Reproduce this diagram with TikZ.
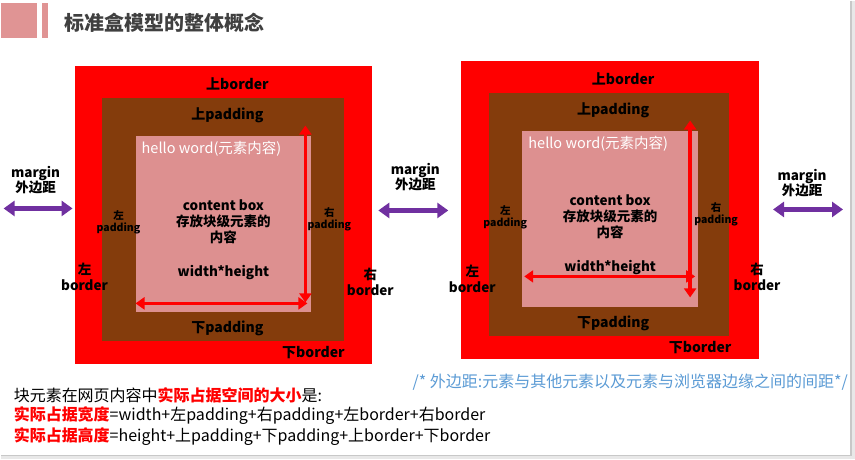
\documentclass[tikz,border=0pt]{standalone}
\usepackage{fontspec}
\setmainfont{Noto Sans CJK SC}
\usetikzlibrary{arrows.meta}
\definecolor{bordred}{HTML}{FF0000}
\definecolor{padbrown}{HTML}{843C0C}
\definecolor{contpink}{HTML}{DD9090}
\definecolor{hdrpink}{HTML}{E09494}
\definecolor{mgpurple}{HTML}{7030A0}
\definecolor{titlegray}{HTML}{404040}
\definecolor{notblue}{HTML}{5B9BD5}
\definecolor{pagegray}{HTML}{E8E8E8}
\definecolor{edgegray}{HTML}{C8C8C8}
\tikzset{
  lbl/.style={font=\bfseries\fontsize{14}{15}\selectfont, text=black, inner sep=0pt, align=center},
  smalllbl/.style={font=\bfseries\fontsize{10.5}{12}\selectfont, text=black, inner sep=0pt, align=center},
  dimarrow/.style={draw=bordred, line width=3.5pt, {Triangle[length=9pt,width=12pt]}-{Triangle[length=9pt,width=12pt]}},
  marginarrow/.style={draw=mgpurple, line width=4.5pt, {Triangle[length=11pt,width=15pt]}-{Triangle[length=11pt,width=15pt]}},
  bodytext/.style={font=\fontsize{16}{20}\selectfont, text=black, inner sep=0pt, anchor=west},
}
\newcommand{\redb}[1]{\textcolor{bordred}{\bfseries #1}}
\begin{document}
\begin{tikzpicture}[x=1pt,y=-1pt]
  % page and slide area
  \fill[pagegray] (0,0) rectangle (855,459);
  \fill[white] (0,0) rectangle (851,455);
  \draw[edgegray, line width=1.2pt] (851,0) -- (851,455) -- (0,455);
  \useasboundingbox (0,0) rectangle (855,459);

  % header bars and title
  \fill[hdrpink] (0,2) rectangle (36,37);
  \fill[hdrpink] (41,2) rectangle (47,37);
  \node[anchor=west, inner sep=0pt, text=titlegray, font=\bfseries\fontsize{20}{22}\selectfont] (title) at (64,22) {标准盒模型的整体概念};

  % ---------- left box ----------
  \fill[bordred] (74,65) rectangle (372,364);
  \fill[padbrown] (101,97) rectangle (344,341);
  \fill[contpink] (135,135) rectangle (311,312);
  \coordinate (Lvt) at (305,125);
  \coordinate (Lvb) at (305,302);
  \coordinate (Lhl) at (135,303);
  \coordinate (Lhr) at (307,303);
  \draw[dimarrow] (Lvt) -- (Lvb);
  \draw[dimarrow] (Lhl) -- (Lhr);
  \node[lbl] (Ltb) at (237,83) {上border};
  \node[lbl] (Ltp) at (227,115) {上padding};
  \node[anchor=west, inner sep=0pt, text=white, font=\fontsize{14.5}{16}\selectfont] (Lhello) at (141,148) {hello word(元素内容)};
  \node[lbl, font=\bfseries\fontsize{13.5}{16}\selectfont] (Lcb) at (223,221) {content box\\存放块级元素的\\内容};
  \node[lbl, font=\bfseries\fontsize{13.5}{16}\selectfont] (Lwh) at (223,272) {width*height};
  \node[smalllbl] (Llp) at (118,222) {左\\padding};
  \node[smalllbl] (Lrp) at (329,219) {右\\padding};
  \node[lbl, font=\bfseries\fontsize{13.5}{16}\selectfont] (Llb) at (84,276) {左\\border};
  \node[lbl, font=\bfseries\fontsize{13.5}{16}\selectfont] (Lrb) at (370,281) {右\\border};
  \node[lbl] (Lbp) at (227,328) {下padding};
  \node[lbl] (Lbb) at (313,352) {下border};

  % ---------- right box ----------
  \fill[bordred] (461,60) rectangle (759,359);
  \fill[padbrown] (489,92) rectangle (729,336);
  \fill[contpink] (522,130) rectangle (698,307);
  \coordinate (Rvt) at (690,120);
  \coordinate (Rvb) at (690,297);
  \coordinate (Rhl) at (524,276);
  \coordinate (Rhr) at (695,276);
  \draw[dimarrow] (Rvt) -- (Rvb);
  \draw[dimarrow] (Rhl) -- (Rhr);
  \node[lbl] (Rtb) at (623,78) {上border};
  \node[lbl] (Rtp) at (613,110) {上padding};
  \node[anchor=west, inner sep=0pt, text=white, font=\fontsize{14.5}{16}\selectfont] (Rhello) at (528,143) {hello word(元素内容)};
  \node[lbl, font=\bfseries\fontsize{13.5}{16}\selectfont] (Rcb) at (610,216) {content box\\存放块级元素的\\内容};
  \node[lbl, font=\bfseries\fontsize{13.5}{16}\selectfont] (Rwh) at (610,267) {width*height};
  \node[smalllbl] (Rlp) at (505,217) {左\\padding};
  \node[smalllbl] (Rrp) at (716,214) {右\\padding};
  \node[lbl, font=\bfseries\fontsize{13.5}{16}\selectfont] (Rlb) at (472,278) {左\\border};
  \node[lbl, font=\bfseries\fontsize{13.5}{16}\selectfont] (Rrb) at (757,276) {右\\border};
  \node[lbl] (Rbp) at (613,323) {下padding};
  \node[lbl] (Rbb) at (700,347) {下border};

  % ---------- margins ----------
  \node[lbl, font=\bfseries\fontsize{13.5}{15}\selectfont] (m1) at (35,180) {margin\\外边距};
  \coordinate (m1l) at (3,208);
  \coordinate (m1r) at (72,208);
  \draw[marginarrow] (m1l) -- (m1r);
  \node[lbl, font=\bfseries\fontsize{13.5}{15}\selectfont] (m2) at (415,177) {margin\\外边距};
  \coordinate (m2l) at (378,210);
  \coordinate (m2r) at (448,210);
  \draw[marginarrow] (m2l) -- (m2r);
  \node[lbl, font=\bfseries\fontsize{13.5}{15}\selectfont] (m3) at (802,183) {margin\\外边距};
  \coordinate (m3l) at (773,209);
  \coordinate (m3r) at (843,209);
  \draw[marginarrow] (m3l) -- (m3r);

  % ---------- notes ----------
  \node[anchor=east, inner sep=0pt, text=notblue, font=\fontsize{16}{17}\selectfont] (note) at (848,382) {/* 外边距:元素与其他元素以及元素与浏览器边缘之间的间距*/};
  \node[bodytext] (t1) at (13,395) {块元素在网页内容中\redb{实际占据空间的大小}是:};
  \node[bodytext] (t2) at (13,415) {\redb{实际占据宽度}=width+左padding+右padding+左border+右border};
  \node[bodytext] (t3) at (13,436) {\redb{实际占据高度}=height+上padding+下padding+上border+下border};
\end{tikzpicture}
\end{document}
